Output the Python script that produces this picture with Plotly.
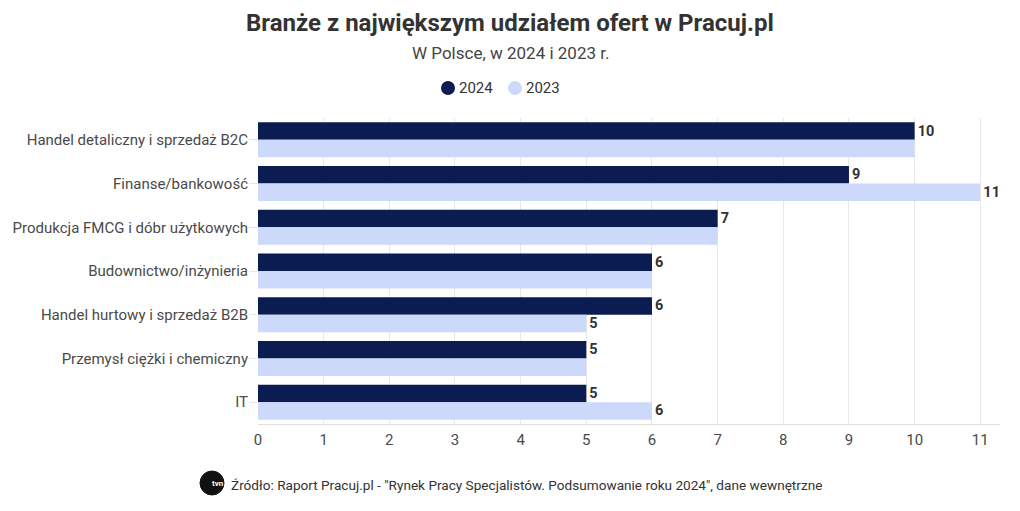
import plotly.graph_objects as go

categories = [
    "Handel detaliczny i sprzedaż B2C",
    "Finanse/bankowość",
    "Produkcja FMCG i dóbr użytkowych",
    "Budownictwo/inżynieria",
    "Handel hurtowy i sprzedaż B2B",
    "Przemysł ciężki i chemiczny",
    "IT",
]
series_names = ["2024", "2023"]
values_2024 = [10, 9, 7, 6, 6, 5, 5]
values_2023 = [10, 11, 7, 6, 5, 5, 6]
x_ticks = list(range(0, 12))

c24 = "#0b1c52"
c23 = "#cdd9fa"
colors = [c24, c23]
font_family = "Roboto, 'Noto Sans', sans-serif"

text_2024 = [str(v) for v in values_2024]
text_2023 = [str(b) if b != a else "" for a, b in zip(values_2024, values_2023)]

# page has 8px body margin -> figure sized to fit the window
OFF = 8
W, H = 1012, 503
L, R, T, B = 250, 20, 110, 87
PW, PH = W - L - R, H - T - B


def px_x(sx):
    return (sx - OFF - L) / PW


def px_y(sy):
    return (H - B - (sy - OFF)) / PH


fig = go.Figure()
for name, vals, txt, col in [("2024", values_2024, text_2024, c24),
                              ("2023", values_2023, text_2023, c23)]:
    fig.add_trace(go.Bar(
        y=categories, x=vals, orientation="h", name=name,
        marker=dict(color=col, line=dict(width=0)),
        text=txt, textposition="outside", cliponaxis=False,
        textfont=dict(color="#333333", size=14.5, family=font_family, weight="bold"),
        showlegend=False, hoverinfo="x+y",
    ))

annotations = [
    dict(text="<b>Branże z największym udziałem ofert w Pracuj.pl</b>",
         x=px_x(510), xref="paper", y=px_y(23), yref="paper", showarrow=False,
         font=dict(size=24, color="#333333"), yanchor="middle"),
    dict(text="W Polsce, w 2024 i 2023 r.", x=px_x(510), y=px_y(53), xref="paper", yref="paper",
         showarrow=False, font=dict(size=17, color="#444444"), yanchor="middle"),
    dict(text="Źródło: Raport Pracuj.pl - \"Rynek Pracy Specjalistów. Podsumowanie roku 2024\", dane wewnętrzne",
         x=px_x(229), xanchor="left", y=px_y(485), yanchor="middle", yref="paper", xref="paper",
         showarrow=False, font=dict(size=13.6, color="#333333")),
    dict(text="<b>tvn</b>", x=px_x(210), y=px_y(483), xref="paper", yref="paper",
         showarrow=False, font=dict(size=8, color="white"), yanchor="middle"),
]
shapes = [
    dict(type="circle", xref="paper", yref="paper", xsizemode="pixel", ysizemode="pixel",
         xanchor=px_x(212), yanchor=px_y(483), x0=-12, x1=12, y0=-12, y1=12,
         fillcolor="#111111", line=dict(color="#111111", width=1)),
]

# legend (circle + label)
legend_circle_x = [448, 515]
for name, col, cx in zip(series_names, colors, legend_circle_x):
    shapes.append(dict(type="circle", xref="paper", yref="paper", xsizemode="pixel",
                       ysizemode="pixel", xanchor=px_x(cx), yanchor=px_y(88),
                       x0=-7, x1=7, y0=-7, y1=7, fillcolor=col, line=dict(width=0)))
    annotations.append(dict(text=name, x=px_x(cx + 9), xanchor="left", y=px_y(88),
                            yanchor="middle", xref="paper", yref="paper", showarrow=False,
                            font=dict(size=15, color="#333333")))

fig.update_layout(
    width=W, height=H,
    margin=dict(l=L, r=R, t=T, b=B, autoexpand=False),
    paper_bgcolor="white", plot_bgcolor="white",
    barmode="group", bargap=0.2, bargroupgap=0,
    font=dict(family=font_family, color="#333333", size=15),
    showlegend=False,
    xaxis=dict(range=[0, 11.3], tickvals=x_ticks, showgrid=True,
               gridcolor="#e8e8e8", gridwidth=1, zeroline=False,
               showline=True, linecolor="#e0e0e0", linewidth=1, automargin=False,
               ticks="", tickfont=dict(size=15, color="#4a4a4a"), ticklabelstandoff=2),
    yaxis=dict(autorange="reversed", showgrid=False, zeroline=False, automargin=False,
               ticks="outside", ticklen=8, tickcolor="#e6e6e6", tickwidth=1,
               ticklabelstandoff=-2,
               tickfont=dict(size=15, color="#4a4a4a"), showline=False),
    annotations=annotations,
    shapes=shapes,
)

fig.write_html("out.html")
